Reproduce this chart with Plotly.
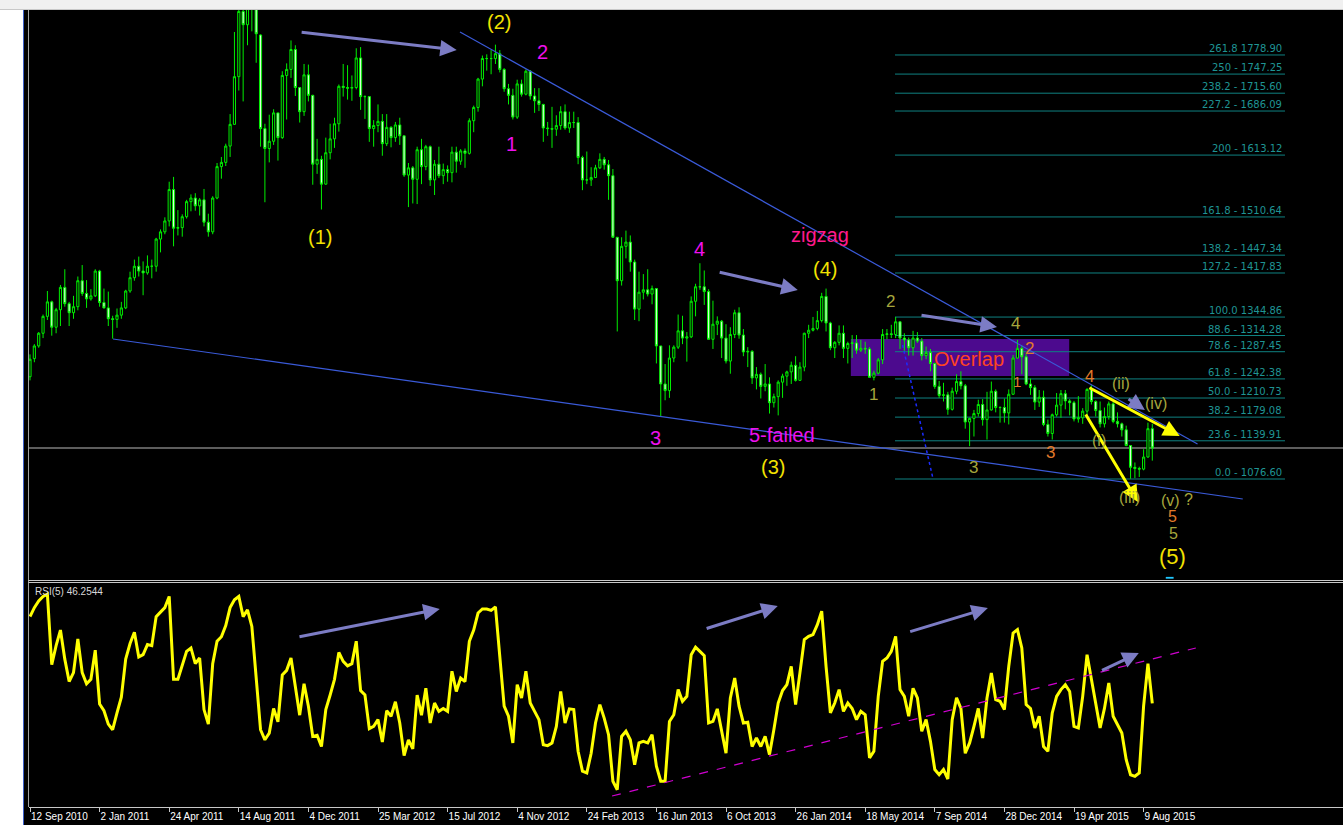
import plotly.graph_objects as go

# ---------------- data (weekly gold, week index 0 = 12 Sep 2010) ----------------
opens = [
 1246,1276,1297,1318,1346,1370,1328,1357,1394,1367,
 1352,1362,1405,1384,1375,1380,1421,1369,1360,1342,
 1341,1348,1360,1388,1410,1429,1421,1418,1429,1429,
 1474,1486,1504,1556,1492,1493,1511,1536,1542,1529,
 1539,1502,1486,1542,1594,1601,1628,1664,1743,1851,
 1829,1880,1856,1812,1657,1624,1636,1683,1642,1745,
 1755,1788,1725,1685,1746,1712,1598,1606,1565,1617,
 1640,1665,1727,1725,1724,1725,1774,1710,1710,1657,
 1662,1669,1632,1659,1642,1663,1645,1580,1592,1573,
 1622,1594,1627,1572,1598,1579,1589,1584,1618,1603,
 1620,1616,1670,1692,1739,1773,1773,1773,1781,1755,
 1723,1712,1676,1731,1714,1752,1711,1703,1697,1658,
 1657,1656,1662,1685,1658,1667,1667,1609,1572,1572,
 1576,1592,1606,1597,1579,1477,1405,1462,1469,1436,
 1358,1386,1390,1383,1392,1297,1234,1223,1277,1295,
 1322,1310,1312,1371,1395,1395,1387,1308,1333,1338,
 1310,1272,1316,1352,1315,1287,1288,1244,1250,1230,
 1234,1203,1213,1237,1247,1254,1265,1240,1262,1318,
 1323,1326,1339,1379,1335,1294,1303,1318,1293,1301,
 1302,1290,1293,1292,1245,1252,1274,1316,1317,1316,
 1337,1310,1307,1294,1310,1305,1281,1286,1268,1230,
 1215,1216,1192,1222,1238,1231,1171,1177,1185,1200,
 1175,1191,1222,1195,1195,1186,1217,1277,1293,1279,
 1234,1228,1204,1212,1167,1152,1183,1199,1218,1206,
 1203,1176,1178,1189,1225,1205,1190,1168,1180,1201,
 1172,1168,1158,1132,1096,1094,1093,1113,1160]
highs = [
 1283,1300,1320,1349,1388,1372,1360,1398,1424,1370,
 1380,1412,1431,1406,1391,1424,1423,1392,1387,1347,
 1359,1370,1390,1420,1440,1445,1437,1447,1440,1476,
 1490,1510,1569,1577,1522,1515,1539,1548,1550,1542,
 1557,1516,1545,1600,1610,1632,1681,1817,1881,1913,
 1885,1921,1857,1813,1665,1680,1689,1683,1752,1765,
 1803,1795,1725,1764,1763,1713,1640,1612,1642,1665,
 1675,1730,1764,1762,1745,1790,1792,1712,1710,1671,
 1697,1681,1681,1661,1668,1675,1645,1600,1595,1627,
 1640,1630,1629,1605,1627,1599,1596,1627,1627,1623,
 1624,1674,1695,1741,1778,1780,1787,1796,1787,1757,
 1731,1723,1738,1738,1755,1754,1724,1724,1698,1668,
 1693,1679,1694,1697,1685,1685,1676,1612,1619,1593,
 1597,1616,1610,1605,1590,1477,1477,1488,1480,1440,
 1420,1416,1424,1397,1392,1297,1267,1298,1298,1349,
 1347,1320,1379,1400,1434,1422,1391,1372,1346,1340,
 1333,1328,1357,1361,1325,1295,1290,1262,1253,1267,
 1245,1218,1240,1251,1256,1271,1280,1270,1319,1332,
 1345,1355,1385,1392,1337,1305,1331,1331,1304,1315,
 1315,1307,1304,1295,1256,1277,1325,1325,1332,1345,
 1338,1318,1311,1322,1320,1310,1296,1292,1269,1239,
 1236,1221,1228,1250,1255,1234,1178,1191,1208,1209,
 1221,1238,1225,1197,1210,1225,1282,1307,1298,1285,
 1243,1232,1224,1223,1175,1185,1219,1224,1224,1209,
 1206,1214,1194,1227,1232,1207,1205,1195,1205,1204,
 1187,1170,1165,1132,1104,1097,1126,1170,1168]
lows = [
 1240,1270,1294,1310,1340,1314,1318,1330,1362,1330,
 1342,1356,1380,1360,1372,1378,1362,1359,1330,1309,
 1327,1342,1358,1385,1405,1412,1381,1415,1409,1420,
 1452,1482,1495,1462,1480,1478,1508,1520,1521,1513,
 1495,1478,1482,1540,1574,1595,1610,1664,1720,1702,
 1795,1818,1766,1627,1535,1601,1630,1604,1640,1672,
 1741,1711,1667,1678,1702,1564,1582,1523,1564,1606,
 1625,1652,1710,1705,1703,1722,1688,1673,1635,1627,
 1651,1612,1628,1626,1635,1630,1577,1527,1533,1532,
 1565,1588,1562,1547,1575,1565,1569,1568,1584,1597,
 1592,1614,1651,1685,1727,1753,1747,1764,1750,1718,
 1697,1672,1673,1710,1712,1705,1683,1686,1635,1645,
 1625,1645,1655,1655,1650,1658,1598,1555,1565,1562,
 1575,1590,1589,1539,1476,1321,1397,1442,1420,1340,
 1338,1374,1379,1366,1268,1180,1207,1211,1270,1292,
 1300,1271,1310,1346,1390,1365,1308,1292,1315,1277,
 1268,1251,1310,1309,1280,1262,1234,1225,1210,1222,
 1185,1195,1182,1211,1231,1234,1238,1240,1255,1310,
 1321,1323,1336,1321,1290,1277,1298,1277,1268,1277,
 1284,1287,1284,1245,1240,1250,1267,1308,1310,1310,
 1292,1287,1281,1281,1302,1273,1275,1255,1226,1211,
 1205,1183,1190,1217,1225,1160,1131,1147,1180,1165,
 1142,1190,1187,1170,1170,1167,1216,1276,1250,1232,
 1216,1191,1196,1164,1147,1142,1180,1178,1192,1182,
 1172,1170,1168,1182,1200,1180,1162,1162,1175,1169,
 1162,1147,1131,1077,1078,1080,1091,1112,1107]
closes = [
 1275,1297,1318,1346,1370,1328,1357,1394,1367,1352,
 1362,1405,1384,1375,1380,1421,1369,1360,1342,1341,
 1348,1360,1388,1410,1429,1421,1418,1429,1429,1474,
 1486,1504,1556,1492,1493,1511,1536,1542,1529,1539,
 1502,1486,1542,1594,1601,1628,1664,1743,1851,1829,
 1880,1856,1814,1657,1624,1636,1683,1642,1745,1755,
 1788,1725,1685,1746,1712,1598,1606,1565,1617,1640,
 1665,1727,1725,1724,1725,1774,1710,1710,1657,1662,
 1669,1632,1659,1642,1663,1645,1580,1592,1573,1622,
 1594,1627,1572,1598,1579,1589,1584,1618,1603,1620,
 1616,1670,1692,1739,1773,1773,1773,1781,1755,1723,
 1712,1676,1731,1714,1752,1711,1703,1697,1658,1657,
 1656,1662,1685,1658,1667,1667,1609,1572,1572,1576,
 1592,1606,1597,1579,1477,1405,1462,1469,1436,1358,
 1386,1390,1383,1392,1297,1234,1223,1277,1295,1322,
 1310,1312,1371,1395,1395,1387,1308,1333,1338,1310,
 1272,1316,1352,1315,1287,1288,1244,1250,1230,1234,
 1203,1213,1237,1247,1254,1265,1240,1262,1318,1323,
 1326,1339,1379,1335,1294,1303,1318,1293,1301,1302,
 1290,1293,1292,1245,1252,1274,1316,1317,1316,1337,
 1310,1307,1294,1310,1305,1281,1286,1268,1230,1215,
 1216,1192,1222,1238,1231,1171,1177,1185,1200,1175,
 1191,1222,1195,1195,1186,1217,1277,1293,1279,1234,
 1228,1204,1212,1167,1152,1183,1199,1218,1206,1203,
 1176,1178,1189,1225,1205,1190,1168,1180,1201,1172,
 1168,1158,1132,1096,1094,1093,1113,1160,1128]
rsi5 = [
 85,89,92,94,95,63.5,72,79,66,56,
 60,75,60,55,57,70,46,43,37,34.5,
 42,49,66,73,78,67,68,72.5,72,85,
 87,89,94,57,57,63.5,69.5,71,64,66.5,
 43.5,37,64,74,76,81,89,92.5,94,85,
 88,80.6,58,34.5,30,33,44,38,59,61,
 66.5,54,41,55,45,31.5,32,27,43.5,50,
 57,69,65,63,64,74,52,50,35,36,
 39,29,43,40.5,47,37.5,23,30,26,50,
 41,53,37.5,46.4,42.7,44,42.7,60.6,51.6,57.6,
 56,74,79,86.6,88.4,88.4,87.8,89.3,65.8,45,
 40.5,28.6,54.6,48.7,60.6,46.4,42.7,39,27.8,27.4,
 28.6,36,51.6,37.5,43.8,43.5,24.9,16,15.2,24,
 37.5,45.7,39.7,32.3,11.5,7.7,31.5,33.8,30,18.9,
 28.6,29.3,28.6,32.3,18.2,11.5,11.5,38.2,41.2,52.4,
 47.2,49.4,68,71.4,69.5,67.6,37.5,38.2,43.8,33.8,
 24,48.7,57.6,45,37.5,37.8,27,30.8,27,31.5,
 23.4,34.5,46.4,52,54.6,62.8,45.7,60,74.7,76.2,
 77,81.4,87.4,62.8,42,46.4,52.4,42.7,46.4,44,
 39,42.7,41.2,21.9,24.9,49.4,65,66.5,69.5,76.2,
 52.4,49.4,40.5,53,48.7,33.8,39,29.3,16.7,14.4,
 16.7,12.5,39,48.7,44,24,28.6,36,44,30.8,
 48.7,59.8,47.9,47.2,43.5,62.8,77.7,79.2,71,45.7,
 44,35.3,40.5,27,24.9,42,49.4,52.4,54.6,51.6,
 36,35.3,49.4,68,56.8,46.4,35.3,44,55.4,40.5,
 36.8,33,21.1,14.4,13.7,15.2,45,64,46.25]
weeks = list(range(len(closes)))

tick_weeks = [0, 16, 32, 48, 64, 80, 96, 112, 128, 144, 160, 176, 192, 208, 224, 240, 256]
tick_labels = ["12 Sep 2010", "2 Jan 2011", "24 Apr 2011", "14 Aug 2011", "4 Dec 2011",
               "25 Mar 2012", "15 Jul 2012", "4 Nov 2012", "24 Feb 2013", "16 Jun 2013",
               "6 Oct 2013", "26 Jan 2014", "18 May 2014", "7 Sep 2014", "28 Dec 2014",
               "19 Apr 2015", "9 Aug 2015"]

fib_texts = ["261.8 1778.90", "250 - 1747.25", "238.2 - 1715.60", "227.2 - 1686.09",
             "200 - 1613.12", "161.8 - 1510.64", "138.2 - 1447.34", "127.2 - 1417.83",
             "100.0 1344.86", "88.6 - 1314.28", "78.6 - 1287.45", "61.8 - 1242.38",
             "50.0 - 1210.73", "38.2 - 1179.08", "23.6 - 1139.91", "0.0 - 1076.60"]
fib_prices = [1778.90, 1747.25, 1715.60, 1686.09, 1613.12, 1510.64, 1447.34, 1417.83,
              1344.86, 1314.28, 1287.45, 1242.38, 1210.73, 1179.08, 1139.91, 1076.60]
fib_span = (198.85, 288.5)
bid_price = 1128.0
rsi_value_text = "RSI(5) 46.2544"

# drawn objects (week index, price) / (week index, rsi)
upper_trend = [(98.85, 1817.0), (268.4, 1134.6)]
lower_trend = [(19.08, 1308.5), (278.8, 1043.5)]
dotted_line = [(200.6, 1298.6), (207.5, 1079.9)]
overlap_box = [(188.7, 1247.2), (238.9, 1308.5)]
rsi_support = [(133.8, 4.9), (268.0, 71.0)]
main_arrows = [((62.1, 1817.0), (98.1, 1787.2)), ((158.2, 1419.5), (176.5, 1389.7)),
               ((204.6, 1348.2), (222.3, 1328.4)), ((252.2, 1210.8), (256.3, 1190.9))]
yellow_arrows = [((243.2, 1229.0), (264.3, 1147.8)), ((242.5, 1185.9), (254.7, 1038.5))]
rsi_arrows = [((61.6, 75.9), (94.2, 88.4)), ((155.2, 79.5), (171.9, 89.7)),
              ((202.0, 78.1), (220.2, 88.8)), ((246.1, 60.7), (254.9, 68.75))]

YEL, MAG, PINK, OLV, ORG = "#f2e200", "#ee10ee", "#ff1a8c", "#a6a63c", "#e27a2a"
labels = [
    ("(1)", 66.7, 1478, YEL, 20), ("(2)", 107.8, 1834, YEL, 20), ("(3)", 170.7, 1097, YEL, 20),
    ("(4)", 182.7, 1425, YEL, 20), ("(5)", 262.6, 948, YEL, 22),
    ("1", 110.7, 1632, MAG, 20), ("2", 117.8, 1784, MAG, 20), ("3", 143.9, 1144, MAG, 20),
    ("4", 153.8, 1457, MAG, 20), ("5-failed", 172.8, 1150, MAG, 20), ("zigzag", 181.6, 1481, PINK, 20),
    ("2", 197.8, 1371, OLV, 17), ("1", 193.8, 1216, OLV, 17), ("3", 216.8, 1095, OLV, 17),
    ("4", 226.6, 1335, OLV, 17), ("2", 229.7, 1293, ORG, 17), ("1", 226.8, 1238, ORG, 15),
    ("3", 234.7, 1121, ORG, 17), ("4", 243.5, 1247, ORG, 17),
    ("(ii)", 250.7, 1234, OLV, 16), ("(iv)", 258.8, 1201, OLV, 16), ("(i)", 245.8, 1141, OLV, 16),
    ("(iii)", 252.7, 1046, OLV, 16), ("(v)", 262.2, 1041, OLV, 16), ("?", 266.4, 1042, OLV, 16),
    ("5", 262.6, 1014, ORG, 16), ("5", 262.8, 987, OLV, 16),
]

FONT = "Liberation Sans, Arial, sans-serif"

# ---------------- figure ----------------
fig = go.Figure()
fig.add_trace(go.Candlestick(
    x=weeks, open=opens, high=highs, low=lows, close=closes,
    increasing=dict(line=dict(color="#00ee00", width=1), fillcolor="#000000"),
    decreasing=dict(line=dict(color="#00ee00", width=1), fillcolor="#d8ffd8"),
    whiskerwidth=0, xaxis="x", yaxis="y", hoverinfo="skip", showlegend=False))
fig.add_trace(go.Scatter(
    x=weeks, y=rsi5, mode="lines", line=dict(color="#ffff00", width=3),
    xaxis="x2", yaxis="y2", hoverinfo="skip", showlegend=False))

shapes = []
# chart frame pieces (paper coords; plot area is px 29..1343 x 10..807)
def px_x(p):
    return (p - 29) / 1314.0
def px_y(p):
    return (807 - p) / 797.0

shapes.append(dict(type="rect", xref="paper", yref="paper", x0=px_x(-2), x1=px_x(23),
                   y0=px_y(830), y1=px_y(-2), fillcolor="#ffffff", line=dict(width=0), layer="above"))
shapes.append(dict(type="rect", xref="paper", yref="paper", x0=px_x(-2), x1=px_x(1345),
                   y0=px_y(10), y1=px_y(-2), fillcolor="#f0f0f0", line=dict(width=0), layer="above"))
shapes.append(dict(type="line", xref="paper", yref="paper", x0=px_x(0), x1=px_x(1345),
                   y0=px_y(9.5), y1=px_y(9.5), line=dict(color="#c8c8c8", width=1), layer="above"))
shapes.append(dict(type="line", xref="paper", yref="paper", x0=px_x(23.5), x1=px_x(23.5),
                   y0=px_y(830), y1=px_y(10), line=dict(color="#3c5fc8", width=1), layer="above"))
shapes.append(dict(type="line", xref="paper", yref="paper", x0=px_x(28.5), x1=px_x(28.5),
                   y0=px_y(807), y1=px_y(10), line=dict(color="#a0a0a0", width=1), layer="above"))
for p in (580.5, 582.5):
    shapes.append(dict(type="line", xref="paper", yref="paper", x0=px_x(28.5), x1=px_x(1345),
                       y0=px_y(p), y1=px_y(p), line=dict(color="#c8c8c8", width=1), layer="above"))

# overlap box
shapes.append(dict(type="rect", xref="x", yref="y", x0=overlap_box[0][0], x1=overlap_box[1][0],
                   y0=overlap_box[0][1], y1=overlap_box[1][1], fillcolor="#4c0a8e",
                   line=dict(width=0), layer="below"))
# fib levels
for fp in fib_prices:
    shapes.append(dict(type="line", xref="x", yref="y", x0=fib_span[0], x1=fib_span[1],
                       y0=fp, y1=fp, line=dict(color="#0f8282", width=1), layer="below"))
# bid line
shapes.append(dict(type="line", xref="paper", yref="y", x0=0, x1=1, y0=bid_price, y1=bid_price,
                   line=dict(color="#7c7c7c", width=1.5), layer="below"))
# trend lines
for ln in (upper_trend, lower_trend):
    shapes.append(dict(type="line", xref="x", yref="y", x0=ln[0][0], y0=ln[0][1],
                       x1=ln[1][0], y1=ln[1][1], line=dict(color="#3a5ad8", width=1.2)))
shapes.append(dict(type="line", xref="x", yref="y", x0=dotted_line[0][0], y0=dotted_line[0][1],
                   x1=dotted_line[1][0], y1=dotted_line[1][1],
                   line=dict(color="#1c2cff", width=1.5, dash="dot")))
shapes.append(dict(type="line", xref="x2", yref="y2", x0=rsi_support[0][0], y0=rsi_support[0][1],
                   x1=rsi_support[1][0], y1=rsi_support[1][1],
                   line=dict(color="#d000d0", width=1.2, dash="dash")))
# tiny shift marker
shapes.append(dict(type="rect", xref="x", yref="y", x0=261.1, x1=262.9, y0=911.5, y1=914.5,
                   fillcolor="#20c8ff", line=dict(width=0)))

ann = []
for (t, h) in main_arrows:
    ann.append(dict(x=h[0], y=h[1], ax=t[0], ay=t[1], xref="x", yref="y", axref="x", ayref="y",
                    text="", showarrow=True, arrowhead=2, arrowsize=1.1, arrowwidth=3,
                    arrowcolor="#7c7cc4"))
for (t, h) in yellow_arrows:
    ann.append(dict(x=h[0], y=h[1], ax=t[0], ay=t[1], xref="x", yref="y", axref="x", ayref="y",
                    text="", showarrow=True, arrowhead=2, arrowsize=1.1, arrowwidth=3,
                    arrowcolor="#ffff00"))
for (t, h) in rsi_arrows:
    ann.append(dict(x=h[0], y=h[1], ax=t[0], ay=t[1], xref="x2", yref="y2", axref="x2", ayref="y2",
                    text="", showarrow=True, arrowhead=2, arrowsize=1.1, arrowwidth=3,
                    arrowcolor="#7c7cc4"))
for txt, fp in zip(fib_texts, fib_prices):
    ann.append(dict(x=fib_span[1] - 0.2, y=fp, xref="x", yref="y", text=txt, showarrow=False,
                    xanchor="right", yanchor="bottom", yshift=-1,
                    font=dict(family="DejaVu Sans, Liberation Sans", size=10, color="#1f9494")))
for txt, wx, wy, col, sz in labels:
    ann.append(dict(x=wx, y=wy, xref="x", yref="y", text=txt, showarrow=False,
                    xanchor="center", yanchor="middle", font=dict(family=FONT, size=sz, color=col)))
ann.append(dict(x=215.8, y=1275, xref="x", yref="y", text="Overlap", showarrow=False,
                xanchor="center", yanchor="middle", font=dict(family=FONT, size=20, color="#ff4422")))
ann.append(dict(x=0.003, y=0.96, xref="x2 domain", yref="y2 domain", text=rsi_value_text,
                showarrow=False, xanchor="left", yanchor="middle",
                font=dict(family=FONT, size=10, color="#d8d8d8")))

fig.update_layout(
    width=1343, height=825,
    margin=dict(l=29, r=0, t=10, b=18, pad=0),
    paper_bgcolor="#000000", plot_bgcolor="#000000",
    showlegend=False, font=dict(family=FONT, color="#ffffff"),
    shapes=shapes, annotations=ann,
    xaxis=dict(domain=[0, 1], range=[-0.23, 301.84], anchor="y", showticklabels=False,
               showgrid=False, zeroline=False, showline=False, ticks="",
               rangeslider=dict(visible=False), fixedrange=True),
    yaxis=dict(domain=[px_y(579), 1], range=[911.0, 1853.4], visible=False, fixedrange=True),
    xaxis2=dict(domain=[0, 1], range=[-0.23, 301.84], anchor="y2", matches="x",
                tickvals=tick_weeks, ticktext=tick_labels, ticks="outside", ticklen=4,
                tickcolor="#c8c8c8", showline=True, linecolor="#c8c8c8", linewidth=1,
                ticklabelposition="outside right",
                tickfont=dict(family=FONT, size=10, color="#ffffff"),
                showgrid=False, zeroline=False, fixedrange=True),
    yaxis2=dict(domain=[0, px_y(583)], range=[0, 100], visible=False, fixedrange=True),
)

fig.write_html("out.html", config={"displayModeBar": False},
               post_script="document.body.style.margin='0';document.body.style.overflow='hidden';")
